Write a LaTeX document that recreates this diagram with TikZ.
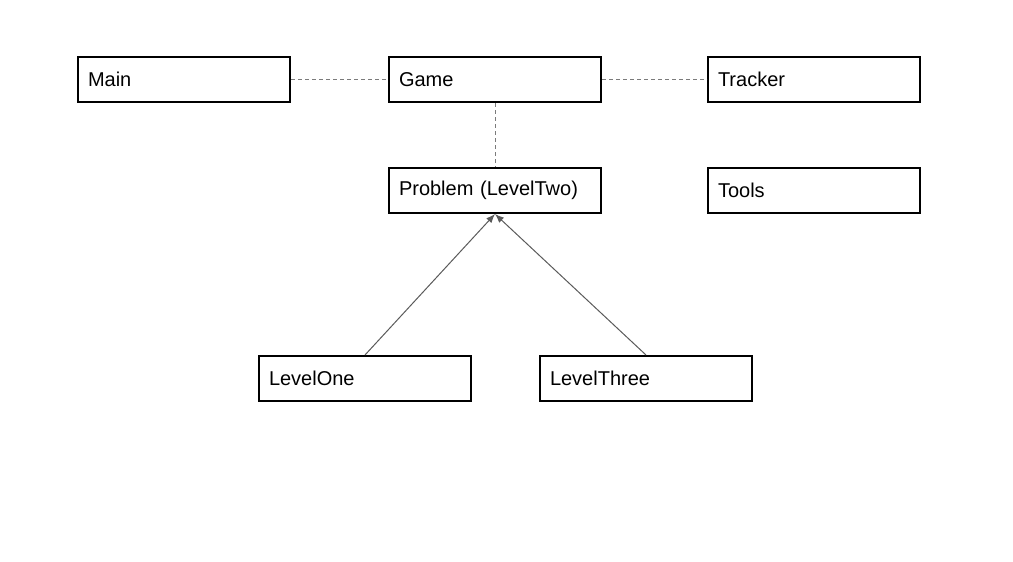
\documentclass[tikz,border=0pt]{standalone}
\usepackage{fontspec}
\setmainfont{Liberation Sans}
\usetikzlibrary{positioning,arrows.meta}
\definecolor{linegray}{RGB}{90,90,90}

\begin{document}
\begin{tikzpicture}[x=1pt,y=-1pt,>=Latex,
    box/.style={draw,line width=2pt,align=left,font=\fontsize{20}{23}\selectfont,inner xsep=10pt,inner ysep=0pt,text width=192pt,minimum height=45pt,anchor=north west},
    link/.style={dashed,draw=linegray!80,line width=1pt,dash pattern=on 4pt off 3pt},
    inherit/.style={->,draw=linegray,line width=1pt,>={Latex[length=9pt,width=7pt]}}]
    \useasboundingbox (0,0) rectangle (1013,562);
    \node[box] (main) at (77,56) {Main};
    \node[box,right=97pt of main] (game) {Game};
    \node[box,right=105pt of game] (tracker) {Tracker};
    \node[box,below=64pt of game] (problem) {Problem (LevelTwo)};
    \node[box,below=64pt of tracker] (tools) {Tools};
    \node[box] (one) at (258,355) {LevelOne};
    \node[box] (three) at (539,355) {LevelThree};
    \draw[link] (main)--(game); \draw[link] (game)--(tracker); \draw[link] (game)--(problem);
    \draw[inherit] (one.north)--(problem.south); \draw[inherit] (three.north)--(problem.south);
  \end{tikzpicture}
\end{document}
